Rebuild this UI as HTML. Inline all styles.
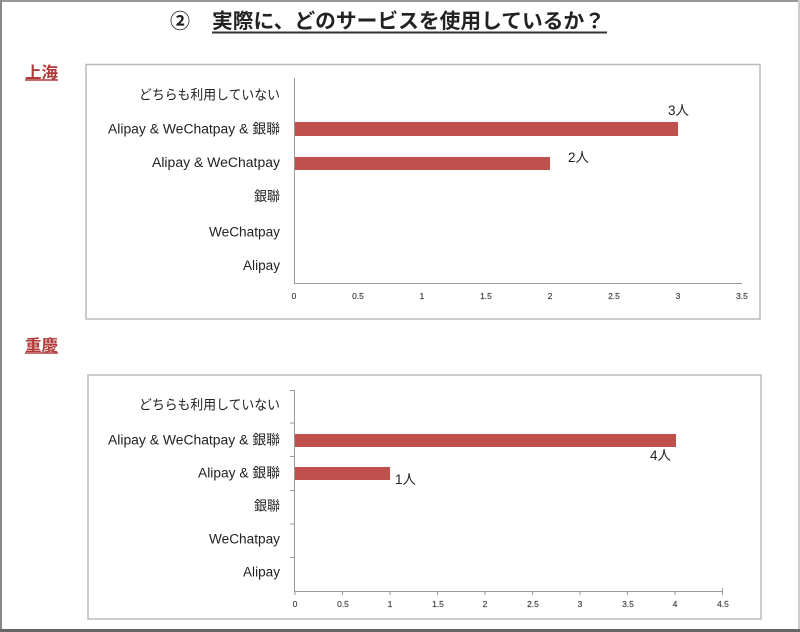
<!DOCTYPE html>
<html><head><meta charset="utf-8"><style>
html,body{margin:0;padding:0;background:#fff;}
svg{display:block;}
text{font-family:"Liberation Sans","Noto Sans CJK JP",sans-serif;}
</style></head><body>
<svg width="800" height="632" viewBox="0 0 800 632" xmlns="http://www.w3.org/2000/svg">
<rect x="0" y="0" width="800" height="632" fill="#fff"/>
<!-- page frame -->
<line x1="0" y1="1" x2="800" y2="1" stroke="#999" stroke-width="2"/>
<line x1="1" y1="0" x2="1" y2="632" stroke="#888" stroke-width="2"/>
<line x1="799" y1="0" x2="799" y2="632" stroke="#ccc" stroke-width="2"/>
<line x1="0" y1="630.5" x2="800" y2="630.5" stroke="#666" stroke-width="3"/>

<!-- title -->
<text x="170" y="28" font-size="20" font-weight="bold" fill="#222">②</text>
<text x="212" y="28" font-size="20.5" font-weight="bold" fill="#222" textLength="393" lengthAdjust="spacingAndGlyphs">実際に、どのサービスを使用しているか？</text>
<line x1="212" y1="32.5" x2="607" y2="32.5" stroke="#333" stroke-width="2"/>

<!-- 上海 -->
<text x="25" y="78" font-size="16" font-weight="bold" fill="#b03a3a" textLength="33" lengthAdjust="spacingAndGlyphs">上海</text>
<line x1="25" y1="80" x2="58" y2="80" stroke="#b03a3a" stroke-width="1.5"/>

<!-- top chart box -->
<rect x="86" y="64.5" width="674" height="254.5" fill="#fff" stroke="#bbb" stroke-width="1.5"/>
<g font-size="13.5" fill="#222" text-anchor="end">
<text x="280" y="99.5" textLength="141" lengthAdjust="spacingAndGlyphs">どちらも利用していない</text>
<text x="280" y="133.5" textLength="172" lengthAdjust="spacingAndGlyphs">Alipay &amp; WeChatpay &amp; 銀聯</text>
<text x="280" y="167" textLength="128" lengthAdjust="spacingAndGlyphs">Alipay &amp; WeChatpay</text>
<text x="280" y="201" textLength="26" lengthAdjust="spacingAndGlyphs">銀聯</text>
<text x="280" y="236.5" textLength="71" lengthAdjust="spacingAndGlyphs">WeChatpay</text>
<text x="280" y="270" textLength="37" lengthAdjust="spacingAndGlyphs">Alipay</text>
</g>
<rect x="294" y="122" width="384" height="14" fill="#c0504d"/>
<rect x="294" y="157" width="256" height="13" fill="#c0504d"/>
<text x="668" y="115" font-size="13.5" fill="#222">3人</text>
<text x="568" y="162" font-size="13.5" fill="#222">2人</text>
<line x1="294.5" y1="78" x2="294.5" y2="283.5" stroke="#999" stroke-width="1"/>
<line x1="294" y1="283.5" x2="742" y2="283.5" stroke="#999" stroke-width="1"/>
<g font-size="8.5" fill="#444" text-anchor="middle" stroke="#444" stroke-width="0.2">
<text x="294" y="299">0</text>
<text x="358" y="299">0.5</text>
<text x="422" y="299">1</text>
<text x="486" y="299">1.5</text>
<text x="550" y="299">2</text>
<text x="614" y="299">2.5</text>
<text x="678" y="299">3</text>
<text x="742" y="299">3.5</text>
</g>

<!-- 重慶 -->
<text x="25" y="351" font-size="16" font-weight="bold" fill="#b03a3a" textLength="33" lengthAdjust="spacingAndGlyphs">重慶</text>
<line x1="25" y1="353" x2="58" y2="353" stroke="#b03a3a" stroke-width="1.5"/>

<!-- bottom chart box -->
<rect x="88" y="375" width="673" height="244" fill="#fff" stroke="#bbb" stroke-width="1.5"/>
<g font-size="13.5" fill="#222" text-anchor="end">
<text x="280" y="409.5" textLength="141" lengthAdjust="spacingAndGlyphs">どちらも利用していない</text>
<text x="280" y="444.5" textLength="172" lengthAdjust="spacingAndGlyphs">Alipay &amp; WeChatpay &amp; 銀聯</text>
<text x="280" y="477.5" textLength="82" lengthAdjust="spacingAndGlyphs">Alipay &amp; 銀聯</text>
<text x="280" y="510.5" textLength="26" lengthAdjust="spacingAndGlyphs">銀聯</text>
<text x="280" y="543.5" textLength="71" lengthAdjust="spacingAndGlyphs">WeChatpay</text>
<text x="280" y="576.5" textLength="37" lengthAdjust="spacingAndGlyphs">Alipay</text>
</g>
<rect x="295" y="434" width="381" height="13" fill="#c0504d"/>
<rect x="295" y="467" width="95" height="13" fill="#c0504d"/>
<text x="650" y="460" font-size="13.5" fill="#222">4人</text>
<text x="395" y="484" font-size="13.5" fill="#222">1人</text>
<g stroke="#999" stroke-width="1">
<line x1="294.5" y1="390" x2="294.5" y2="591.5"/>
<line x1="290" y1="390.5" x2="295" y2="390.5"/>
<line x1="290" y1="423" x2="295" y2="423"/>
<line x1="290" y1="456.5" x2="295" y2="456.5"/>
<line x1="290" y1="490.5" x2="295" y2="490.5"/>
<line x1="290" y1="524" x2="295" y2="524"/>
<line x1="290" y1="557.5" x2="295" y2="557.5"/>
<line x1="294" y1="591.5" x2="723" y2="591.5"/>
<line x1="295" y1="591" x2="295" y2="595"/>
<line x1="342.5" y1="591" x2="342.5" y2="595"/>
<line x1="390" y1="591" x2="390" y2="595"/>
<line x1="437.5" y1="591" x2="437.5" y2="595"/>
<line x1="485" y1="591" x2="485" y2="595"/>
<line x1="532.5" y1="591" x2="532.5" y2="595"/>
<line x1="580" y1="591" x2="580" y2="595"/>
<line x1="627.5" y1="591" x2="627.5" y2="595"/>
<line x1="675" y1="591" x2="675" y2="595"/>
<line x1="722.5" y1="588" x2="722.5" y2="595"/>
</g>
<g font-size="8.5" fill="#444" text-anchor="middle" stroke="#444" stroke-width="0.2">
<text x="295" y="607">0</text>
<text x="343" y="607">0.5</text>
<text x="390" y="607">1</text>
<text x="438" y="607">1.5</text>
<text x="485" y="607">2</text>
<text x="533" y="607">2.5</text>
<text x="580" y="607">3</text>
<text x="628" y="607">3.5</text>
<text x="675" y="607">4</text>
<text x="723" y="607">4.5</text>
</g>
</svg>
</body></html>
